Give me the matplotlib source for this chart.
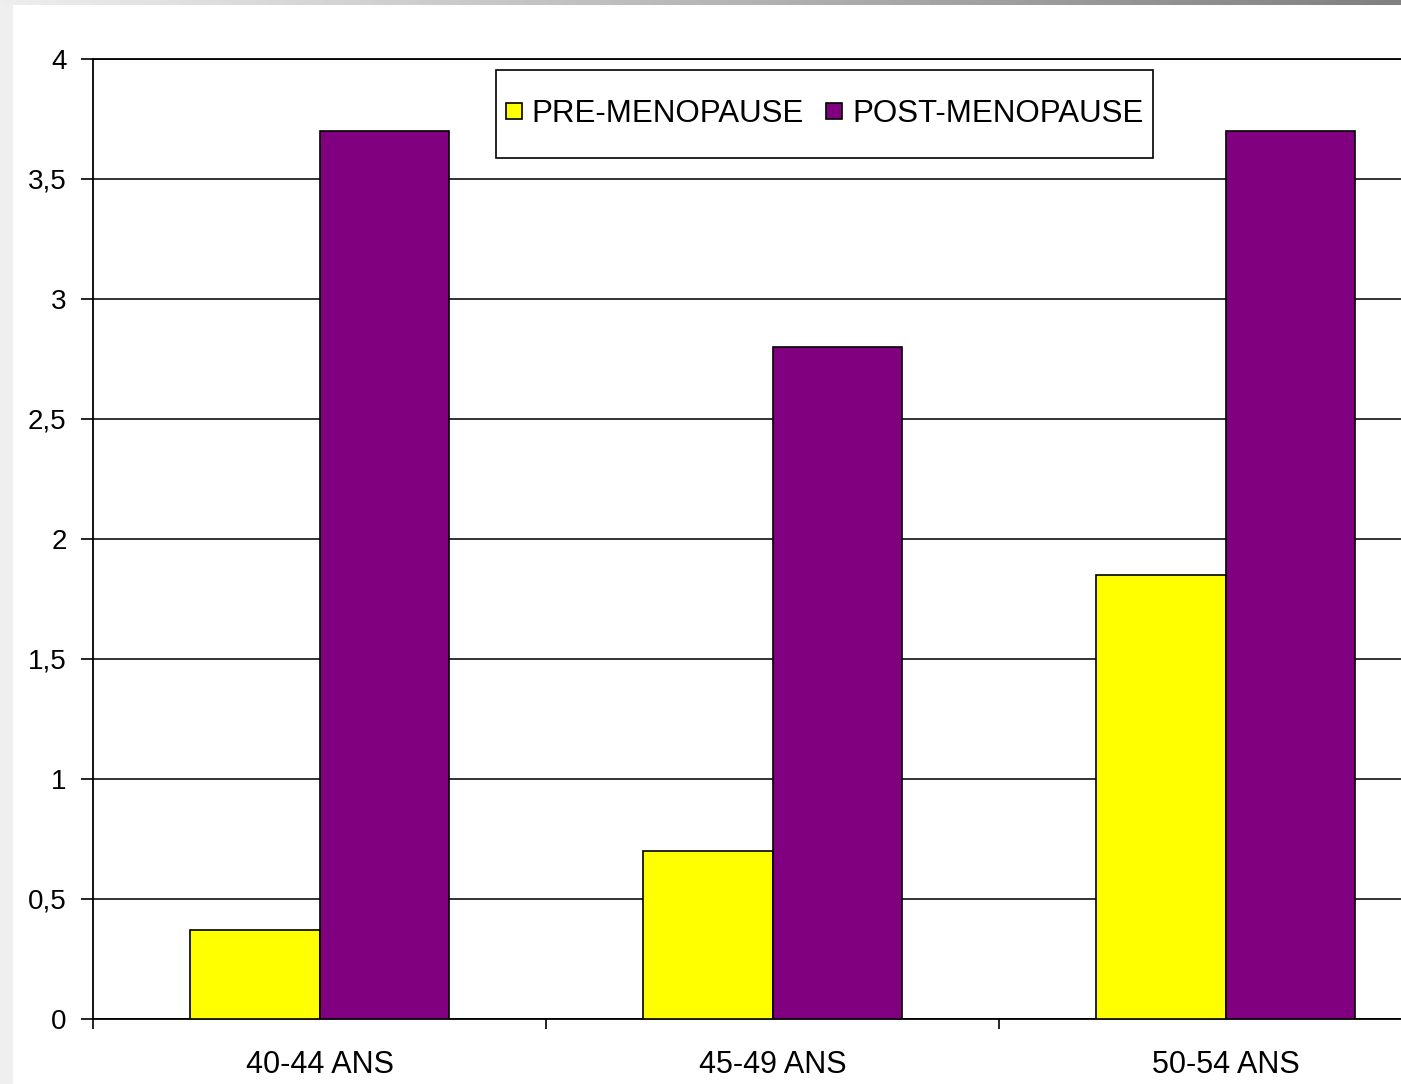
import numpy as np
import matplotlib
matplotlib.use('Agg')
import matplotlib.pyplot as plt
from matplotlib.patches import Rectangle
from matplotlib.container import BarContainer
from matplotlib.legend_handler import HandlerPatch

plt.rcParams['font.family'] = ['Liberation Sans', 'DejaVu Sans']

categories = ['40-44 ANS', '45-49 ANS', '50-54 ANS']
pre_menopause = [0.37, 0.7, 1.85]
post_menopause = [3.7, 2.8, 3.7]
y_ticks = [0, 0.5, 1, 1.5, 2, 2.5, 3, 3.5, 4]
y_tick_labels = ['0', '0,5', '1', '1,5', '2', '2,5', '3', '3,5', '4']

W, H = 1401, 1084
fig = plt.figure(figsize=(W / 100, H / 100), dpi=100)
fig.patch.set_facecolor('#efefef')

# white slide area with a grey gradient strip along the top
fig.patches.append(Rectangle((13 / W, 0), 1, 1 - 5 / H, transform=fig.transFigure,
                             facecolor='white', edgecolor='none', zorder=-10))
bar_ax = fig.add_axes([0, 1 - 5 / H, 1, 5 / H])
grad = np.linspace(0.93, 0.50, 256).reshape(1, -1)
bar_ax.imshow(grad, aspect='auto', cmap='gray', vmin=0, vmax=1)
bar_ax.axis('off')

# the plot runs past the right edge of the figure
ax = fig.add_axes([93 / W, 65 / H, 1359 / W, 960 / H])
ax.set_facecolor('white')

x = np.arange(len(categories))
w = 0.285
ax.bar(x - w / 2, pre_menopause, w, color='#ffff00', edgecolor='black', linewidth=1.2,
       label='PRE-MENOPAUSE', zorder=3)
ax.bar(x + w / 2, post_menopause, w, color='#800080', edgecolor='black', linewidth=1.2,
       label='POST-MENOPAUSE', zorder=3)

ax.set_xlim(-0.5, 2.5)
ax.set_ylim(0, 4)
ax.set_yticks(y_ticks)
ax.set_yticklabels(y_tick_labels, fontsize=20)
ax.yaxis.grid(True, color='#222222', linewidth=1.3, zorder=1)
ax.set_axisbelow(True)

ax.set_xticks([-0.5, 0.5, 1.5, 2.5])
ax.set_xticklabels([])
ax.set_xticks(x, minor=True)
ax.set_xticklabels(categories, minor=True, fontsize=22)
ax.tick_params(axis='x', which='minor', length=0, pad=22)
ax.tick_params(axis='x', which='major', direction='out', length=7, width=1.2)
ax.tick_params(axis='y', direction='out', length=9, width=1.2, pad=10)

for side in ['left', 'bottom', 'top']:
    ax.spines[side].set_color('black')
    ax.spines[side].set_linewidth(1.3)
ax.spines['right'].set_visible(False)


# small square swatch, centred on the cap height of the label
def square_swatch(legend, orig_handle, xdescent, ydescent, width, height, fontsize):
    s = 11.5
    return Rectangle((-xdescent + (width - s) / 2, 0.34 * fontsize - s / 2), s, s)


def copy_bar_style(tgt, src):
    tgt.update_from(src.patches[0])


leg_fs = 22.5
leg = ax.legend(loc='center', bbox_to_anchor=(0.5383, 0.9427), ncol=2, fontsize=leg_fs,
                frameon=False, handlelength=0.52, handletextpad=0.32, columnspacing=0.7,
                borderpad=0, borderaxespad=0,
                handler_map={BarContainer: HandlerPatch(patch_func=square_swatch,
                                                        update_func=copy_bar_style)})
leg.set_zorder(6)

# legend box: tight at the sides, roomier above and below the entries
fig.canvas.draw()
bb = leg.get_window_extent()
pad_x = 10
pad_y = (88 - bb.height) / 2
ax.add_patch(Rectangle(((bb.x0 - pad_x) / W, (bb.y0 - pad_y) / H),
                       (bb.width + 2 * pad_x) / W, (bb.height + 2 * pad_y) / H,
                       transform=fig.transFigure, facecolor='white', edgecolor='black',
                       linewidth=1.2, zorder=5, clip_on=False))

fig.savefig('out.png', dpi=100)
